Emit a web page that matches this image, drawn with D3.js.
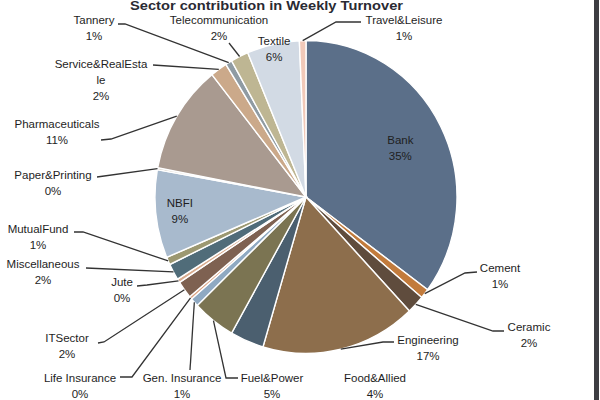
<!DOCTYPE html>
<html>
<head>
<meta charset="utf-8">
<script src="https://cdn.jsdelivr.net/npm/d3@7"></script>
<style>
  body { margin: 0; background: #fff; }
  text { font-family: "Liberation Sans", Arial, sans-serif; fill: #1e1e1e; }
</style>
</head>
<body>
<div id="chart"></div>
<script>
// data (clockwise from 12 o'clock)
var sectors = ["Bank", "Cement", "Ceramic", "Engineering", "Food&Allied", "Fuel&Power",
  "Gen. Insurance", "Life Insurance", "ITSector", "Jute", "Miscellaneous", "MutualFund",
  "NBFI", "Paper&Printing", "Pharmaceuticals", "Service&RealEstate", "Tannery",
  "Telecommunication", "Textile", "Travel&Leisure"];
var shares = [35.1, 1.0, 1.9, 16.6, 3.6, 4.6, 0.9, 0.3, 1.8, 0.4, 1.7, 0.8,
  9.1, 0.2, 11.3, 1.8, 0.7, 1.9, 5.6, 0.7];
var sliceColors = ["#5b6f89", "#c27b3c", "#5f4c3d", "#8d6e4c", "#4b5f6f", "#7b7452",
  "#8fa9c2", "#dba383", "#7e6151", "#d8ab8e", "#506c79", "#9c9871",
  "#a8bacd", "#c9c1b1", "#a99a90", "#cba98a", "#8f9ba3",
  "#beb693", "#d2dae4", "#f1c9b9"];
var pctLabels = shares.map(function(v) { return Math.round(v) + "%"; });

var svgWidth = 600;
var svgHeight = 400;
var cx = 306, cy = 197, radius = 151, squash = 1.036;

var svg = d3.select("#chart")
  .append("svg")
  .attr("width", svgWidth)
  .attr("height", svgHeight);

// title
svg.append("text")
  .attr("x", 130)
  .attr("y", 10)
  .attr("textLength", 273)
  .attr("lengthAdjust", "spacingAndGlyphs")
  .style("font-size", "12.5px")
  .style("font-weight", "bold")
  .style("fill", "#2a2a33")
  .text("Sector contribution in Weekly  Turnover");

// right frame edge
svg.append("rect")
  .attr("x", 594).attr("y", 0)
  .attr("width", 5).attr("height", svgHeight)
  .attr("fill", "#3d3d42");

var pie = d3.pie().sort(null).value(function(d) { return d; });
var arcs = pie(shares);

var arc = d3.arc().innerRadius(0).outerRadius(radius);

var pieGroup = svg.append("g")
  .attr("transform", "translate(" + cx + "," + cy + ") scale(1," + squash + ")");

pieGroup.selectAll("path")
  .data(arcs)
  .enter()
  .append("path")
  .attr("d", arc)
  .attr("fill", function(d, i) { return sliceColors[i]; })
  .attr("stroke", "#fff")
  .attr("stroke-width", 1.4);

function edgePoint(d, k) {
  var a = (d.startAngle + d.endAngle) / 2;
  return [cx + radius * k * Math.sin(a), cy - radius * k * Math.cos(a) * squash];
}

// label placement: outside labels with leader lines, a few inside
var labelLayout = {
  "Bank": { inside: 0.70 },
  "NBFI": { inside: 0.84 },
  "Textile": { inside: 0.97 },
  "Cement": { x: 500, y: 268, leader: [[477, 272], [465, 273]] },
  "Ceramic": { x: 529, y: 327, leader: [[504, 331], [493, 331]] },
  "Engineering": { x: 428, y: 340, leader: [[394, 342], [383, 342]] },
  "Food&Allied": { x: 375, y: 378 },
  "Fuel&Power": { x: 272, y: 378, leader: [[238, 378], [226, 378]] },
  "Gen. Insurance": { x: 182, y: 378, leader: [[190, 370]] },
  "Life Insurance": { x: 80, y: 378, leader: [[120, 377], [132, 377]] },
  "ITSector": { x: 67, y: 338, leader: [[98, 343], [104, 342]] },
  "Jute": { x: 122, y: 282, leader: [[137, 286], [147, 285]] },
  "Miscellaneous": { x: 43, y: 264, leader: [[86, 268]] },
  "MutualFund": { x: 38, y: 229, leader: [[74, 232], [83, 232]] },
  "Paper&Printing": { x: 53, y: 175, leader: [[97, 177]] },
  "Pharmaceuticals": { x: 57, y: 124, leader: [[101, 140], [111, 139]] },
  "Service&RealEstate": { x: 101, y: 64, lines: ["Service&RealEsta", "le"], leader: [[153, 65]] },
  "Tannery": { x: 94, y: 20, leader: [[118, 24], [125, 24]] },
  "Telecommunication": { x: 219, y: 20, leader: [[229, 43]] },
  "Travel&Leisure": { x: 404, y: 20, leader: [[361, 22], [336, 22]] }
};

var lineGen = d3.line();
var labelGroup = svg.append("g");

arcs.forEach(function(d, i) {
  var name = sectors[i];
  var lay = labelLayout[name];
  var x, y;
  if (lay.inside) {
    var p = edgePoint(d, lay.inside);
    x = p[0];
    y = p[1] - 8;
  } else {
    x = lay.x;
    y = lay.y;
    if (lay.leader) {
      var pts = lay.leader.concat([edgePoint(d, 1)]);
      labelGroup.append("path")
        .attr("d", lineGen(pts))
        .attr("fill", "none")
        .attr("stroke", "#333")
        .attr("stroke-width", 1.3);
    }
  }
  var lines = (lay.lines || [name]).concat([pctLabels[i]]);
  var t = labelGroup.append("text")
    .attr("text-anchor", "middle")
    .attr("dominant-baseline", "central")
    .style("font-size", "11.5px");
  lines.forEach(function(s, j) {
    t.append("tspan")
      .attr("x", x)
      .attr("y", y + j * 16)
      .text(s);
  });
});
</script>
</body>
</html>
